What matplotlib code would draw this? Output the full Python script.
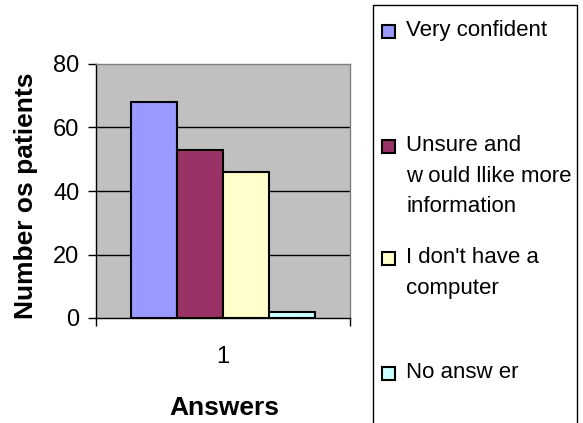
import matplotlib
matplotlib.use("Agg")
import matplotlib.pyplot as plt
from matplotlib.patches import Rectangle
from matplotlib.lines import Line2D
import numpy as np

plt.rcParams['font.family'] = ['Liberation Sans', 'DejaVu Sans']

# data
categories = ["1"]
series_labels = ["Very confident", "Unsure and\nw ould llike more\ninformation",
                 "I don't have a\ncomputer", "No answ er"]
series_values = [68, 53, 46, 2]
series_colors = ["#9999FF", "#993366", "#FFFFCC", "#CCFFFF"]
y_ticks = [0, 20, 40, 60, 80]

W, H = 583, 423
fig = plt.figure(figsize=(W / 100, H / 100), dpi=100)
fig.patch.set_facecolor("white")

# plot area placed in pixels (left, top, right, bottom)
L, T, R, B = 96, 64, 350, 318
ax = fig.add_axes([L / W, 1 - B / H, (R - L) / W, (B - T) / H])
ax.set_facecolor("#C0C0C0")

bar_w = 0.181
n = len(series_values)
offsets = (np.arange(n) - (n - 1) / 2) * bar_w
for off, val, col in zip(offsets, series_values, series_colors):
    ax.bar(1 + off, val, width=bar_w, color=col, edgecolor="black",
           linewidth=1.5, zorder=3)

ax.set_xlim(0.5, 1.5)
ax.set_ylim(0, 80)
ax.set_yticks(y_ticks)
ax.set_yticklabels([str(v) for v in y_ticks], fontsize=17)
ax.set_xticks([1])
ax.set_xticklabels(categories, fontsize=17)
ax.set_xticks([0.5, 1.5], minor=True)
ax.tick_params(axis="x", which="major", length=0, pad=20)
ax.tick_params(axis="x", which="minor", length=6, width=1, direction="out")
ax.tick_params(axis="y", length=6, width=1, direction="out", pad=6)

for y in y_ticks[1:-1]:
    ax.axhline(y, color="black", linewidth=1, zorder=1)

ax.spines["left"].set_color("black")
ax.spines["bottom"].set_color("black")
ax.spines["top"].set_color("#808080")
ax.spines["right"].set_color("#808080")
for s in ax.spines.values():
    s.set_linewidth(1)
    s.set_zorder(4)

ax.set_ylabel("Number os patients", fontsize=19, fontweight="bold")
ax.yaxis.set_label_coords(-0.23, 0.48)
fig.text(224 / W, 1 - 408 / H, "Answers", fontsize=19, fontweight="bold",
         ha="center", va="center")

# legend box (runs off the bottom of the picture), drawn by hand
lx0, lx1, ly0 = 373 / W, 577 / W, 1 - 5 / H
fig.lines.append(Line2D([lx0, lx0, lx1, lx1], [0, ly0, ly0, 0],
                        transform=fig.transFigure, color="black", linewidth=1))
cap_tops = [20, 135, 247, 362]
for lab, col, ct in zip(series_labels, series_colors, cap_tops):
    fig.patches.append(Rectangle((382 / W, 1 - (ct + 18) / H), 13 / W, 13 / H,
                                 transform=fig.transFigure, facecolor=col,
                                 edgecolor="black", linewidth=1.5))
    fig.text(406 / W, 1 - ct / H, lab, fontsize=16, ha="left", va="top",
             linespacing=1.6)

fig.savefig("out.png", dpi=100)
